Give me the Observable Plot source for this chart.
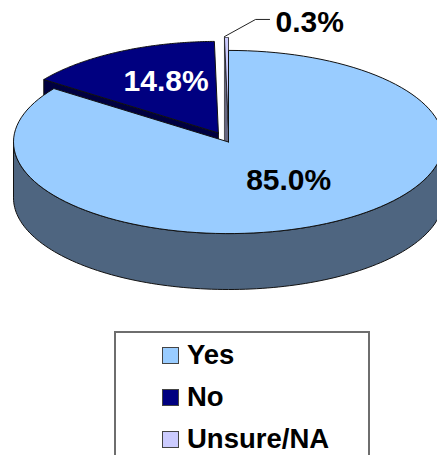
<!DOCTYPE html>
<html><head><meta charset="utf-8">
<script src="https://cdn.jsdelivr.net/npm/d3@7"></script>
<script src="https://cdn.jsdelivr.net/npm/@observablehq/plot@0.6"></script>
<style>
html,body{margin:0;padding:0;background:#fff;overflow:hidden;width:437px;height:455px;font-family:"Liberation Sans",Arial,sans-serif}
svg{display:block}
#legend{position:absolute;left:114px;top:331px;width:252px;height:140px;border:2px solid #6e6e6e;box-sizing:content-box;}
.row{position:absolute;left:46px;display:flex;align-items:center;font-weight:bold;font-size:27.5px;line-height:30px;color:#000;white-space:nowrap}
.sw{width:15px;height:15px;border:1.2px solid #444;margin-right:8px;flex:none}
</style></head><body><div id="chart"></div><div id="legend"></div>
<script>
const categories = ["Yes","No","Unsure/NA"];
const shares = [85.0,14.8,0.3];
const labels = ["85.0%","14.8%","0.3%"];
const topColors = ["#99CCFF","#000080","#CCCCFF"];
const sideColors = ["#4E6580","#000040","#666680"];
// slice pull-out and pie shape in radius units
const pull = [[0,0],[-0.047,0.042],[0,0.06]];
const squash = 0.426, depth = 0.26, sliverDepth = 0.48;
const total = d3.sum(shares);
const W=437,H=325,R=215,cx=228,cy=141.5;
const spans=[];
spans[0]=[0,shares[0]/total*360];
spans[2]=[360-shares[2]/total*360,360];
spans[1]=[spans[2][0]-shares[1]/total*360,spans[2][0]];
const rad=d=>d*Math.PI/180;
const pt=(deg,o,dz=0)=>({x:o[0]+Math.sin(rad(deg)),y:o[1]+squash*Math.cos(rad(deg))-dz});
const arc=(a0,a1,o,dz=0)=>d3.range(0,121).map(i=>pt(a0+(a1-a0)*i/120,o,dz));
const slice=i=>{const o=pull[i];return [{x:o[0],y:o[1]},...arc(spans[i][0],spans[i][1],o),{x:o[0],y:o[1]}];};
const sideYes=[...arc(90,270,[0,0]),...arc(270,90,[0,0],depth)];
const radialSide=(i,deg,dz)=>{const o=pull[i],c={x:o[0],y:o[1]};return [c,pt(deg,o),pt(deg,o,dz),{x:c.x,y:c.y-dz},c];};
const poly=(d,fill,sw=1)=>Plot.line(d,{x:"x",y:"y",fill,stroke:"#111",strokeWidth:sw,curve:"linear",strokeLinejoin:"round"});
const txt=(i,x,y,fill)=>Plot.text([labels[i]],{x:[x],y:[y],text:d=>d,fontSize:30,fontWeight:"bold",fontFamily:"Liberation Sans",fill});
const chart=Plot.plot({width:W,height:H,margin:0,
 x:{domain:[-cx/R,(W-cx)/R],range:[0,W],axis:null},
 y:{domain:[(cy-H)/R,cy/R],range:[H,0],axis:null},
 marks:[
  poly(radialSide(1,spans[1][0],depth),sideColors[1]),
  poly(radialSide(2,spans[2][0],sliverDepth),sideColors[2],.6),
  poly(slice(1),topColors[1]),
  poly(slice(2),topColors[2],.8),
  poly(sideYes,sideColors[0]),
  poly(slice(0),topColors[0]),
  Plot.line([{x:-0.019,y:0.49},{x:0.126,y:0.57},{x:0.191,y:0.57}],{x:"x",y:"y",stroke:"#222",strokeWidth:1}),
  txt(0,0.28,-0.18,"#000"),
  txt(1,-0.29,0.28,"#fff"),
  txt(2,0.378,0.556,"#000")
 ]});
document.getElementById("chart").append(chart);
const tops=[7,49,91];
const lg=d3.select("#legend");
categories.forEach((c,i)=>{
 const r=lg.append("div").attr("class","row").style("top",tops[i]+"px");
 r.append("span").attr("class","sw").style("background",topColors[i]);
 r.append("span").text(c);
});
</script></body></html>
